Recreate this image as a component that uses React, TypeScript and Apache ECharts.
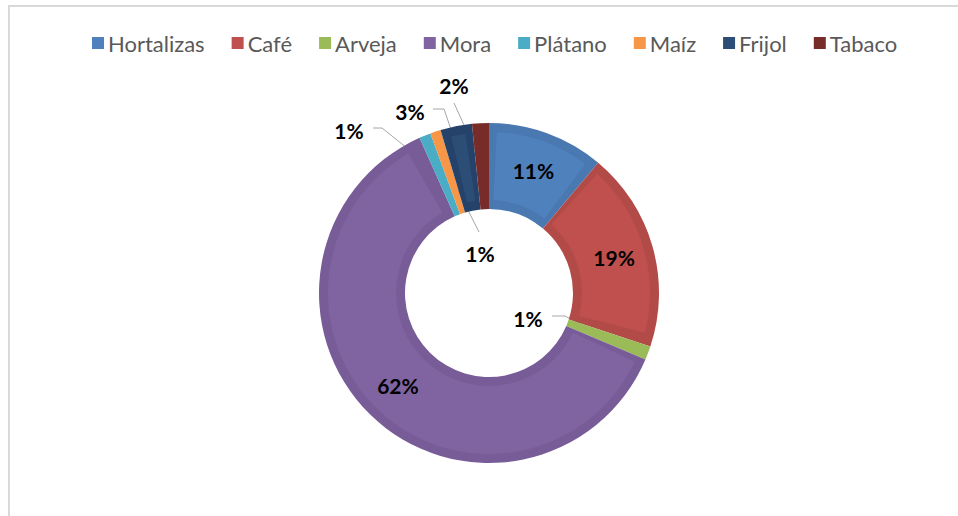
import React, { useEffect, useRef } from "react";
import * as echarts from "echarts";

const categories = ["Hortalizas", "Café", "Arveja", "Mora", "Plátano", "Maíz", "Frijol", "Tabaco"];
const values = [11.1, 19.0, 1.3, 61.9, 1.1, 1.0, 3.0, 1.6];
const colors = ["#4F81BD", "#C0504D", "#9BBB59", "#8064A2", "#4BACC6", "#F79646", "#2C4D75", "#772C2A"];
const bevelColors = ["#4A78B1", "#B24A47", "#9BBB59", "#785C98", "#4BACC6", "#F79646", "#25436A", "#772C2A"];

// label placement for the thin slices (label centre, elbow, line end)
const outsideLabels: Record<number, { x: number; y: number; elbow: number[]; end: number[] }> = {
  2: { x: 528, y: 318, elbow: [565, 316], end: [552, 316] },
  4: { x: 349, y: 130, elbow: [382, 128], end: [373, 128] },
  5: { x: 480, y: 253, elbow: [479, 232], end: [479, 232] },
  6: { x: 410, y: 111, elbow: [444, 109], end: [433, 109] },
  7: { x: 454, y: 85, elbow: [454, 103], end: [454, 103] },
};

const CX = 489;
const CY = 293;
const R0 = 84;
const R1 = 170;

export default function App() {
  const ref = useRef<HTMLDivElement>(null);
  useEffect(() => {
    if (!ref.current) return;
    const chart = echarts.init(ref.current, null, { renderer: "svg" });
    const total = values.reduce((a, b) => a + b, 0);
    const midAngles: number[] = [];
    let acc = 0;
    values.forEach((v) => {
      midAngles.push(((acc + v / 2) / total) * 360);
      acc += v;
    });
    const centroid = (i: number) => {
      const a = (midAngles[i] * Math.PI) / 180;
      const r = (R0 + R1) / 2;
      return [CX + r * Math.sin(a), CY - r * Math.cos(a)];
    };

    chart.setOption({
      animation: false,
      backgroundColor: "#ffffff",
      graphic: [
        {
          type: "rect",
          shape: { x: 9, y: 6, width: 1000, height: 600 },
          style: { fill: "none", stroke: "#D9D9D9", lineWidth: 2 },
          silent: true,
        },
      ],
      legend: {
        left: 87,
        top: 27,
        icon: "rect",
        itemWidth: 12,
        itemHeight: 12,
        itemGap: 27,
        selectedMode: false,
        textStyle: { color: "#595959", fontSize: 22, fontFamily: "Lato", padding: [0, 0, 0, -1] },
        data: categories.map((c, i) => ({ name: c, itemStyle: { color: colors[i] } })),
      },
      series: [
        {
          type: "pie",
          name: "bevel",
          center: [CX, CY],
          radius: [R0, R1],
          startAngle: 90,
          clockwise: true,
          silent: true,
          label: { show: false },
          labelLine: { show: false },
          data: categories.map((c, i) => ({ name: c, value: values[i], itemStyle: { color: bevelColors[i] } })),
        },
        {
          type: "pie",
          name: "face",
          center: [CX, CY],
          radius: [R0 + 9, R1 - 9],
          startAngle: 90,
          clockwise: true,
          padAngle: 5.5,
          silent: true,
          label: { show: false },
          labelLine: { show: false },
          data: categories.map((c, i) => ({ name: c, value: values[i], itemStyle: { color: colors[i] } })),
        },
        {
          type: "pie",
          name: "labels",
          center: [CX, CY],
          radius: [R0, R1],
          startAngle: 90,
          clockwise: true,
          silent: true,
          itemStyle: { color: "rgba(0,0,0,0)" },
          label: {
            show: true,
            position: "inside",
            color: "#000000",
            fontFamily: "Lato",
            fontWeight: "bold",
            fontSize: 21,
            formatter: (p: any) => Math.round(p.value) + "%",
          },
          labelLine: { show: false, lineStyle: { color: "#A6A6A6", width: 1 } },
          labelLayout: (params: any) => {
            const cfg = outsideLabels[params.dataIndex];
            if (!cfg) return {};
            return {
              x: cfg.x,
              y: cfg.y,
              align: "center",
              verticalAlign: "middle",
              labelLinePoints: [centroid(params.dataIndex), cfg.elbow, cfg.end],
            };
          },
          data: categories.map((c, i) =>
            outsideLabels[i]
              ? {
                  name: c,
                  value: values[i],
                  label: { position: "outside" },
                  labelLine: { show: true, length: 10, length2: 10, lineStyle: { color: "#A6A6A6", width: 1 } },
                }
              : { name: c, value: values[i] }
          ),
        },
      ],
    });
    return () => chart.dispose();
  }, []);
  return <div ref={ref} style={{ position: "fixed", left: 0, top: 0, width: 958, height: 516 }} />;
}
